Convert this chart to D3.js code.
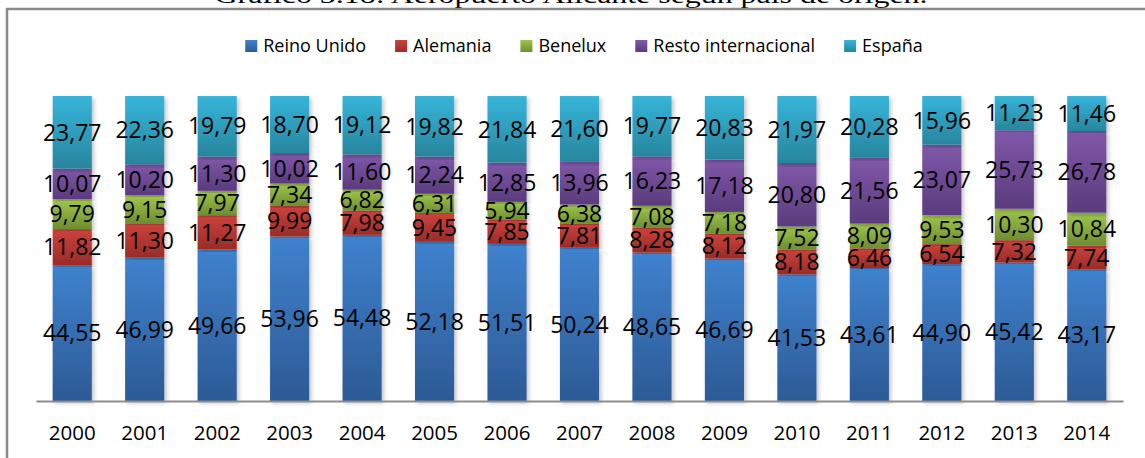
<!DOCTYPE html>
<html>
<head>
<meta charset="utf-8">
<script src="https://cdn.jsdelivr.net/npm/d3@7"></script>
<style>
  body { margin: 0; background: #fff; }
  svg text { font-family: "Open Sans", sans-serif; fill: #000; }
</style>
</head>
<body>
<div class="interactive-wrapper"></div>
<script>
const years = ["2000","2001","2002","2003","2004","2005","2006","2007","2008","2009","2010","2011","2012","2013","2014"]
const seriesNames = ["Reino Unido", "Alemania", "Benelux", "Resto internacional", "España"]

const reinoUnido = [44.55, 46.99, 49.66, 53.96, 54.48, 52.18, 51.51, 50.24, 48.65, 46.69, 41.53, 43.61, 44.90, 45.42, 43.17]
const alemania = [11.82, 11.30, 11.27, 9.99, 7.98, 9.45, 7.85, 7.81, 8.28, 8.12, 8.18, 6.46, 6.54, 7.32, 7.74]
const benelux = [9.79, 9.15, 7.97, 7.34, 6.82, 6.31, 5.94, 6.38, 7.08, 7.18, 7.52, 8.09, 9.53, 10.30, 10.84]
const resto = [10.07, 10.20, 11.30, 10.02, 11.60, 12.24, 12.85, 13.96, 16.23, 17.18, 20.80, 21.56, 23.07, 25.73, 26.78]
const espana = [23.77, 22.36, 19.79, 18.70, 19.12, 19.82, 21.84, 21.60, 19.77, 20.83, 21.97, 20.28, 15.96, 11.23, 11.46]

const seriesValues = [reinoUnido, alemania, benelux, resto, espana]

// gradient top / bottom per series
const colorsTop = ["#3f82ce", "#cd423c", "#9fc64c", "#8058a9", "#37b5da"]
const colorsBottom = ["#2c5a95", "#982c28", "#6f8d30", "#5a3b7c", "#28859d"]

let width = 1145
let height = 458

let svg = d3.select(".interactive-wrapper")
.append("svg")
.attr("width", width)
.attr("height", height)

let defs = svg.append("defs")

seriesNames.forEach((s, i) => {
  let g = defs.append("linearGradient")
  .attr("id", "grad" + i)
  .attr("x1", 0).attr("y1", 0).attr("x2", 0).attr("y2", 1)
  g.append("stop").attr("offset", "0%").attr("stop-color", colorsTop[i])
  g.append("stop").attr("offset", "100%").attr("stop-color", colorsBottom[i])
})

defs.append("filter")
.attr("id", "shadow")
.attr("x", "-20%").attr("y", "-5%").attr("width", "140%").attr("height", "110%")
.append("feDropShadow")
.attr("dx", 2).attr("dy", 2).attr("stdDeviation", 2)
.attr("flood-color", "#000").attr("flood-opacity", 0.25)

// title (cut at top)
svg.append("text")
.attr("x", 571)
.attr("y", 3)
.attr("text-anchor", "middle")
.attr("textLength", 713)
.attr("lengthAdjust", "spacingAndGlyphs")
.style("font-family", "'Liberation Serif', 'Times New Roman', serif")
.style("font-size", "24px")
.text("Gráfico 3.18: Aeropuerto Alicante según país de origen.")

// chart frame
svg.append("rect")
.attr("x", 7)
.attr("y", 9)
.attr("width", 1160)
.attr("height", 480)
.attr("fill", "none")
.attr("stroke", "#8a8a8a")
.attr("stroke-width", 2.5)

let x = d3.scaleBand()
.domain(years)
.range([36, 1123])
.paddingInner(0.46)
.paddingOuter(0.23)

let y = d3.scaleLinear()
.domain([0, 100])
.range([401, 96])

let table = years.map((yr, i) => {
  let row = { year: yr }
  seriesNames.forEach((s, j) => row[s] = seriesValues[j][i])
  return row
})

let stacked = d3.stack().keys(seriesNames)(table)

let layers = svg.selectAll(".layer")
.data(stacked)
.enter()
.append("g")
.attr("class", "layer")
.attr("fill", (d, i) => "url(#grad" + i + ")")

layers.selectAll("rect")
.data(d => d)
.enter()
.append("rect")
.attr("x", d => x(d.data.year))
.attr("width", x.bandwidth())
.attr("y", d => y(d[1]))
.attr("height", d => y(d[0]) - y(d[1]))
.attr("filter", "url(#shadow)")

// axis line
let axis = svg.append("g")
.attr("transform", "translate(0,401)")
.call(d3.axisBottom(x).tickSize(0).tickPadding(24))

axis.select(".domain")
.attr("stroke", "#8c8c8c")
.attr("stroke-width", 2)

axis.selectAll("text")
.style("font-family", "'Open Sans', sans-serif")
.style("font-size", "20.5px")
.attr("fill", "#000")

// data labels
let fmt = v => v.toFixed(2).replace(".", ",")

layers.each(function(layer) {
  d3.select(this).selectAll(".lbl")
  .data(layer)
  .enter()
  .append("text")
  .attr("class", "lbl")
  .attr("x", d => x(d.data.year) + x.bandwidth() / 2)
  .attr("y", d => y((d[0] + d[1]) / 2))
  .attr("dy", "0.36em")
  .attr("text-anchor", "middle")
  .style("font-size", "23px")
  .style("fill", "#000")
  .text(d => fmt(d[1] - d[0]))
})

// legend
let legend = svg.append("g").attr("transform", "translate(0,46)")
let lx = 0
seriesNames.forEach((s, i) => {
  let g = legend.append("g")
  g.append("rect")
  .attr("y", -6).attr("width", 12).attr("height", 12)
  .attr("fill", "url(#grad" + i + ")")
  let t = g.append("text")
  .attr("x", 18)
  .attr("dy", "0.36em")
  .style("font-size", "18px")
  .text(s)
  let w = 18 + t.node().getComputedTextLength()
  g.attr("transform", "translate(" + lx + ",0)")
  lx += w + 29
})
let total = lx - 29
legend.attr("transform", "translate(" + (584 - total / 2) + ",46)")
</script>
</body>
</html>
